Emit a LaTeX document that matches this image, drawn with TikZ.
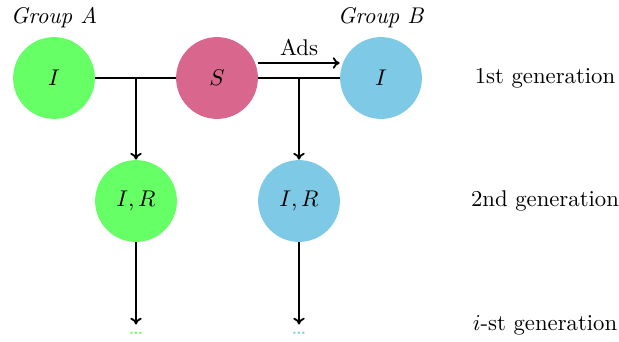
\documentclass[tikz,border=0pt]{standalone}
\usetikzlibrary{arrows.meta}
\definecolor{grpA}{RGB}{102,255,102}
\definecolor{seed}{RGB}{217,102,140}
\definecolor{grpB}{RGB}{126,201,230}
\begin{document}
\begin{tikzpicture}[x=0.44pt,y=-0.44pt,
  agent/.style={circle,minimum size=36pt,inner sep=0pt},
  link/.style={line width=0.8pt},
  flow/.style={link,-{To[length=3pt,width=5pt]}},
  gen/.style={anchor=center}]
\useasboundingbox (0,0) rectangle (619,341);
% first generation
\node[agent,fill=grpA] (a1) at (54,78) {$I$};
\node[agent,fill=seed] (s) at (217,78) {$S$};
\node[agent,fill=grpB] (b1) at (381,78) {$I$};
\node (ga) at (54,18) {\textit{Group A}};
\node (gb) at (381,18) {\textit{Group B}};
% second generation
\node[agent,fill=grpA] (a2) at (136,201) {$I,R$};
\node[agent,fill=grpB] (b2) at (299,201) {$I,R$};
% further generations
\node[text=grpA,inner sep=3pt] (a3) at (136,333) {\ldots};
\node[text=grpB,inner sep=3pt] (b3) at (299,333) {\ldots};
% generation labels
\node[gen] (l1) at (545,78) {1st generation};
\node[gen] (l2) at (545,201) {2nd generation};
\node[gen] (l3) at (545,325) {$i$-st generation};
% connectors
\draw[link] (a1.east) -- (s.west);
\draw[link] (s.east) -- (b1.west);
\coordinate (ja) at (a2 |- a1);
\coordinate (jb) at (b2 |- b1);
\draw[flow] (ja) -- (a2.north);
\draw[flow] (jb) -- (b2.north);
\draw[flow] (a2.south) -- (a3.north);
\draw[flow] (b2.south) -- (b3.north);
\draw[flow] ([yshift=6.6pt]s.east) -- node[above,inner sep=3pt] (ads) {Ads} ([yshift=6.6pt]b1.west);
\end{tikzpicture}
\end{document}
